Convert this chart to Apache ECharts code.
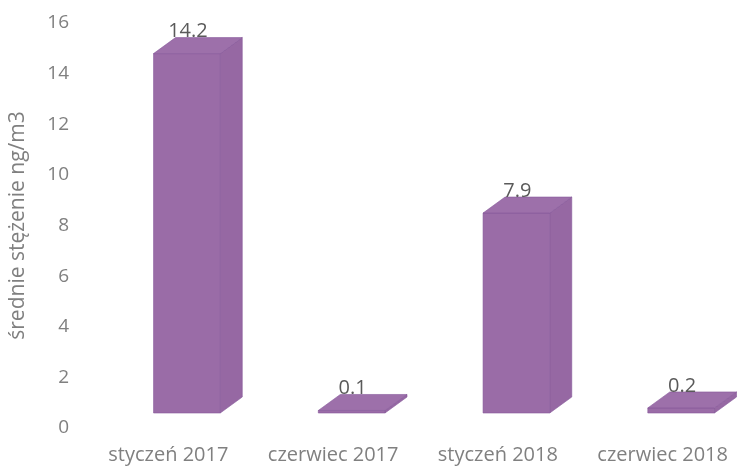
<!DOCTYPE html>
<html>
<head>
<meta charset="utf-8">
<title>Średnie stężenie</title>
<script src="https://cdn.jsdelivr.net/npm/echarts@6/dist/echarts.min.js"></script>
<style>
  html, body { margin: 0; padding: 0; background: #ffffff; }
  #chart { width: 745px; height: 467px; }
</style>
</head>
<body>
<div id="chart"></div>
<script>
// Categories (sampling periods) and mean concentrations in ng/m3
const categories = ['styczeń 2017', 'czerwiec 2017', 'styczeń 2018', 'czerwiec 2018'];
const values = [14.2, 0.1, 7.9, 0.2];
const valueLabels = ['14.2', '0.1', '7.9', '0.2'];
const yTicks = { min: 0, max: 16, interval: 2 };
const axisTitle = 'średnie stężenie ng/m3';

const FONT = '"Open Sans", "DejaVu Sans", sans-serif';
const GREY = '#808080';

// pseudo-3D column look
const DEPTH_X = 22, DEPTH_Y = -16, LIFT = 15;
const FRONT = '#9a6ca7', SIDE = '#9668a3', TOP = '#9d70aa', EDGE = '#87599a';

const chart = echarts.init(document.getElementById('chart'), null, { renderer: 'canvas' });

function renderBar(params, api) {
  const idx = api.value(0);
  const val = api.value(1);
  const top = api.coord([idx, val]);
  const base = api.coord([idx, 0]);
  const band = api.size([1, 0])[0];
  const x0 = top[0] - band * 0.09;
  const x1 = x0 + band * 0.405;
  const yt = top[1] - LIFT;
  const yb = base[1] - LIFT;
  const edge = { stroke: EDGE, lineWidth: 0.6 };
  return {
    type: 'group',
    children: [
      {
        type: 'polygon',
        shape: { points: [[x1, yt], [x1 + DEPTH_X, yt + DEPTH_Y], [x1 + DEPTH_X, yb + DEPTH_Y], [x1, yb]] },
        style: Object.assign({ fill: SIDE }, edge)
      },
      {
        type: 'rect',
        shape: { x: x0, y: yt, width: x1 - x0, height: yb - yt },
        style: Object.assign({ fill: FRONT }, edge)
      },
      {
        type: 'polygon',
        shape: { points: [[x0, yt], [x0 + DEPTH_X, yt + DEPTH_Y], [x1 + DEPTH_X, yt + DEPTH_Y], [x1, yt]] },
        style: Object.assign({ fill: TOP }, edge)
      },
      {
        type: 'text',
        style: {
          x: (x0 + x1) / 2 + 1,
          y: yt - 22,
          text: valueLabels[params.dataIndex],
          font: '20px ' + FONT,
          fill: '#5a5a5a',
          align: 'center',
          verticalAlign: 'middle'
        }
      }
    ]
  };
}

chart.setOption({
  animation: false,
  backgroundColor: '#ffffff',
  grid: { left: 85, right: -12, top: 23, bottom: 39, containLabel: false },
  xAxis: {
    type: 'category',
    data: categories,
    axisLine: { show: false },
    axisTick: { show: false },
    splitLine: { show: false },
    axisLabel: { color: GREY, fontFamily: FONT, fontSize: 20, margin: 17, interval: 0 }
  },
  yAxis: {
    type: 'value',
    min: yTicks.min,
    max: yTicks.max,
    interval: yTicks.interval,
    axisLine: { show: false },
    axisTick: { show: false },
    splitLine: { show: false },
    axisLabel: { color: GREY, fontFamily: FONT, fontSize: 19, margin: 17 },
    name: axisTitle,
    nameLocation: 'middle',
    nameGap: 57,
    nameTextStyle: { color: GREY, fontFamily: FONT, fontSize: 21 }
  },
  series: [{
    type: 'custom',
    clip: false,
    renderItem: renderBar,
    encode: { x: 0, y: 1 },
    data: values.map((v, i) => [i, v])
  }]
});
</script>
</body>
</html>
